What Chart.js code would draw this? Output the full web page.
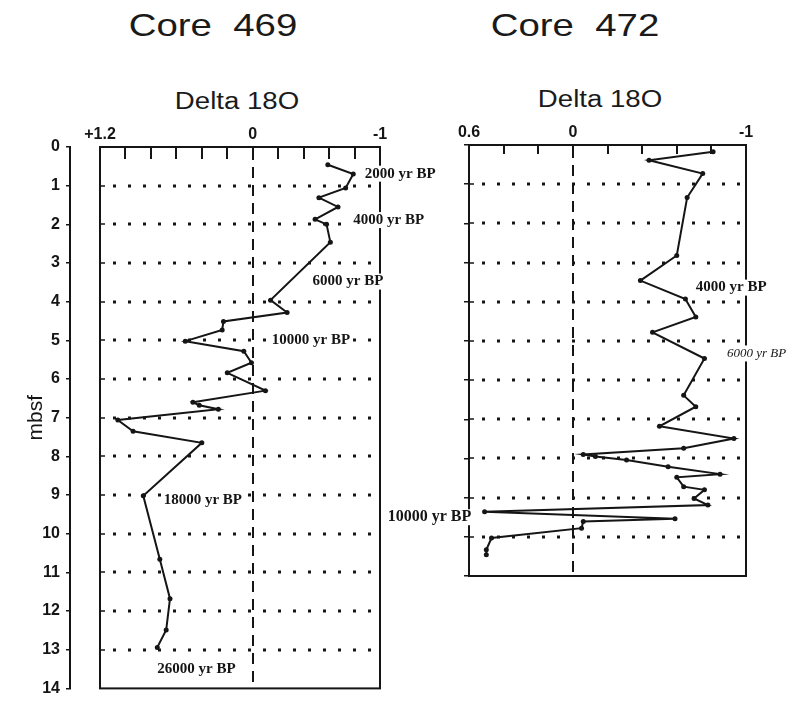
<!DOCTYPE html>
<html>
<head>
<meta charset="utf-8">
<script src="https://cdn.jsdelivr.net/npm/chart.js@4.4.1/dist/chart.umd.min.js"></script>
<style>
  body { margin: 0; background: #fff; }
  #wrap { position: relative; width: 804px; height: 704px; overflow: hidden; }
  canvas { position: absolute; top: 0; }
  .t { position: absolute; font-family: 'Liberation Sans', Arial, sans-serif; color: #1a1a1a;
       white-space: pre; transform: translate(-50%, -50%) scaleX(1.2); }
  .core { font-size: 32px; }
  .delta { font-size: 23px; }
</style>
</head>
<body>
<div id="wrap">
  <div class="t core" style="left:213px; top:25px;">Core  469</div>
  <div class="t core" style="left:575px; top:25px;">Core  472</div>
  <div class="t delta" style="left:237px; top:101px;">Delta 18O</div>
  <div class="t delta" style="left:600px; top:99px;">Delta 18O</div>
  <canvas id="core469" width="440" height="704" style="left:0px;"></canvas>
  <canvas id="core472" width="434" height="704" style="left:370px;"></canvas>
</div>
<script>
// Core 469: depth (mbsf) and delta 18O readings
const depth469 = [0.46, 0.70, 1.06, 1.31, 1.55, 1.87, 2.00, 2.46, 3.96, 4.28, 4.51, 4.73, 5.02, 5.28,
                  5.58, 5.84, 6.30, 6.60, 6.68, 6.78, 7.06, 7.35, 7.65, 9.02, 10.66, 11.68, 12.49, 12.94];
const delta469 = [-0.59, -0.79, -0.73, -0.52, -0.67, -0.49, -0.58, -0.61, -0.14, -0.27, 0.23, 0.24, 0.53, 0.07,
                  0.01, 0.20, -0.10, 0.47, 0.42, 0.27, 1.06, 0.94, 0.40, 0.86, 0.73, 0.65, 0.68, 0.75];

// Core 472
const depth472 = [0.17, 0.39, 0.73, 1.34, 2.82, 3.46, 3.93, 4.39, 4.78, 5.45, 6.39, 6.68, 7.18, 7.49, 7.74,
                  7.90, 7.95, 8.04, 8.21, 8.40, 8.48, 8.72, 8.80, 9.02, 9.19, 9.36, 9.54, 9.61, 9.78,
                  10.03, 10.33, 10.46];
const delta472 = [-0.81, -0.44, -0.75, -0.66, -0.60, -0.39, -0.65, -0.71, -0.46, -0.76, -0.64, -0.71, -0.50, -0.93, -0.64,
                  -0.06, -0.13, -0.31, -0.55, -0.85, -0.60, -0.64, -0.76, -0.70, -0.78, 0.51, -0.59, -0.06, -0.05,
                  0.47, 0.50, 0.50];

// age markers (text, depth, delta at the left edge of the text)
const ages469 = ['2000 yr BP', '4000 yr BP', '6000 yr BP', '10000 yr BP', '18000 yr BP', '26000 yr BP'];
const ageDepth469 = [0.69, 1.89, 3.48, 5.0, 9.14, 13.51];
const ageDelta469 = [-0.88, -0.79, -0.47, -0.15, 0.70, 0.75];

const ages472 = ['4000 yr BP', '6000 yr BP', '10000 yr BP'];
const ageDepth472 = [3.64, 5.32, 9.5];
const ageDelta472 = [-0.71, -0.89, 1.07];

// only these x ticks get a label
const xLabels469 = { '1.2': '+1.2', '0': '0', '-1': '-1' };
const xLabels472 = { '0.6': '0.6', '0': '0', '-1': '-1' };

const INK = '#151515';

function tickLabel(map) {
  return function (v) {
    const k = String(Math.round(v * 10) / 10);
    return map[k] !== undefined ? map[k] : '';
  };
}

const paper = {
  id: 'paper',
  beforeDatasetsDraw(chart, args, opts) {
    const { ctx, chartArea: a, scales: { x, y } } = chart;
    ctx.save();
    ctx.strokeStyle = INK;
    // dotted depth rows
    y.ticks.forEach(t => {
      if (t.value <= y.min || t.value >= y.max) return;
      const py = Math.round(y.getPixelForValue(t.value));
      ctx.lineWidth = 3;
      ctx.setLineDash([3, 12]);
      ctx.beginPath();
      ctx.moveTo(a.left + 13, py);
      ctx.lineTo(a.right - 2, py);
      ctx.stroke();
      ctx.setLineDash([]);
      ctx.lineWidth = 1.5;
      ctx.beginPath();
      ctx.moveTo(a.left, py);
      ctx.lineTo(a.left + 5, py);
      ctx.stroke();
    });
    // dashed zero line
    ctx.lineWidth = 2;
    ctx.setLineDash([11, 7]);
    const zx = Math.round(x.getPixelForValue(0));
    ctx.beginPath();
    ctx.moveTo(zx, a.top + 2);
    ctx.lineTo(zx, a.bottom);
    ctx.stroke();
    ctx.setLineDash([]);
    // frame
    ctx.lineWidth = 2;
    ctx.strokeRect(a.left, a.top, a.right - a.left, a.bottom - a.top);
    // inward ticks along the top
    x.ticks.forEach(t => {
      const px = Math.round(x.getPixelForValue(t.value));
      ctx.beginPath();
      ctx.moveTo(px, a.top);
      ctx.lineTo(px, a.top + opts.tick);
      ctx.stroke();
    });
    ctx.restore();
  },
  afterDatasetsDraw(chart, args, opts) {
    const { ctx, scales: { x, y } } = chart;
    ctx.save();
    ctx.textBaseline = 'middle';
    ctx.textAlign = 'left';
    opts.texts.forEach((txt, i) => {
      ctx.font = opts.fonts[i];
      const px = x.getPixelForValue(opts.deltas[i]);
      const py = y.getPixelForValue(opts.depths[i]);
      const w = ctx.measureText(txt).width;
      ctx.fillStyle = '#fff';
      ctx.fillRect(px - 2, py - 8, w + 4, 16);
      ctx.fillStyle = INK;
      ctx.fillText(txt, px, py);
    });
    ctx.restore();
  }
};

function points(depths, deltas) {
  return depths.map((d, i) => ({ x: deltas[i], y: d }));
}

const tickFont = { family: 'Liberation Sans', size: 16, weight: 'bold' };
const serifBold = 'bold 15px "Liberation Serif"';

function makeCore(id, cfg) {
  const scales = {
    x: {
      type: 'linear', position: 'top', min: cfg.xmin, max: cfg.xmax, reverse: true,
      grid: { display: false, drawTicks: false }, border: { display: false },
      ticks: { stepSize: 0.2, autoSkip: false, maxRotation: 0, padding: 3, color: INK,
               font: tickFont, callback: tickLabel(cfg.xLabels) },
      afterFit: s => { s.height = cfg.xHeight; }
    },
    y: {
      type: 'linear', position: 'left', weight: 1, min: 0, max: cfg.ymax, reverse: true,
      grid: { drawOnChartArea: false, drawTicks: true, tickLength: cfg.yTick, color: INK, lineWidth: 1.5 },
      border: { display: cfg.yBorder, color: INK, width: 2 },
      ticks: { stepSize: 1, padding: 6, color: INK, font: tickFont,
               callback: v => cfg.yLabels ? String(v) : '' },
      title: { display: cfg.yLabels, text: 'mbsf', color: INK,
               font: { family: 'Liberation Sans', size: 21 }, padding: { top: 24, bottom: 0 } },
      afterFit: s => { s.width = cfg.yWidth; }
    }
  };
  if (cfg.gap) {
    scales.yPad = {
      type: 'linear', position: 'left', weight: 0, display: true,
      grid: { display: false }, border: { display: false }, ticks: { display: false },
      afterFit: s => { s.width = cfg.gap; }
    };
  }
  return new Chart(document.getElementById(id), {
    type: 'scatter',
    data: {
      datasets: [{
        data: points(cfg.depths, cfg.deltas),
        showLine: true,
        borderColor: INK,
        borderWidth: 2,
        pointRadius: 2.5,
        pointBackgroundColor: INK,
        pointBorderWidth: 0
      }]
    },
    options: {
      responsive: false,
      animation: false,
      events: [],
      layout: { padding: cfg.padding },
      plugins: {
        legend: { display: false },
        tooltip: { enabled: false },
        paper: { tick: cfg.topTick, texts: cfg.ages, depths: cfg.ageDepths, deltas: cfg.ageDeltas, fonts: cfg.fonts }
      },
      scales: scales
    },
    plugins: [paper]
  });
}

makeCore('core469', {
  depths: depth469, deltas: delta469, xmin: -1, xmax: 1.2, ymax: 14, xLabels: xLabels469,
  xHeight: 37, yWidth: 70, gap: 30, yTick: 4, yBorder: true, yLabels: true, topTick: 12,
  padding: { left: 0, top: 110, right: 60, bottom: 10 },
  ages: ages469, ageDepths: ageDepth469, ageDeltas: ageDelta469,
  fonts: ages469.map(() => serifBold)
});

makeCore('core472', {
  depths: depth472, deltas: delta472, xmin: -1, xmax: 0.6, ymax: 11, xLabels: xLabels472,
  xHeight: 35, yWidth: 89, gap: 0, yTick: 5, yBorder: false, yLabels: false, topTick: 9,
  padding: { left: 10, top: 110, right: 58, bottom: 128 },
  ages: ages472, ageDepths: ageDepth472, ageDeltas: ageDelta472,
  fonts: ['bold 15px "Liberation Serif"', 'italic 13px "Liberation Serif"', 'bold 16px "Liberation Serif"']
});
</script>
</body>
</html>
